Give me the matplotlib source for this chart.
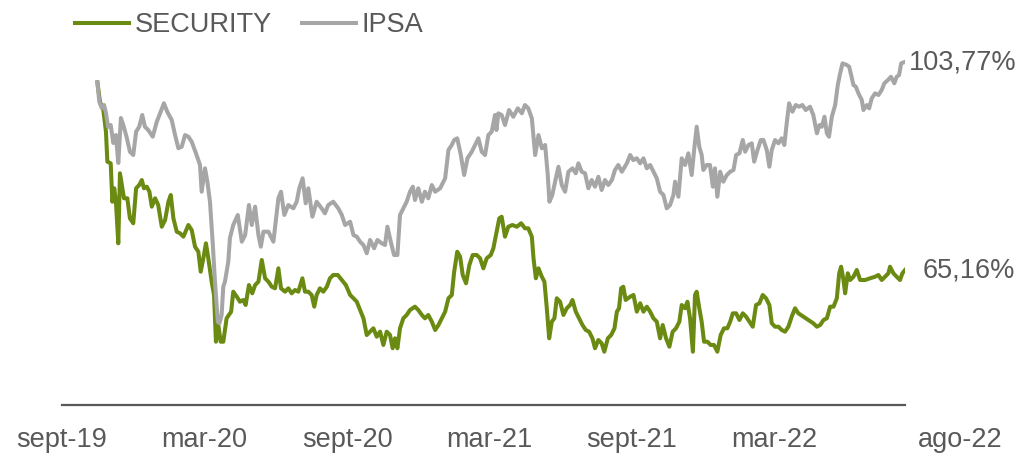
import matplotlib
matplotlib.use("Agg")
import matplotlib.pyplot as plt
import matplotlib.transforms as mtransforms

plt.rcParams['font.family'] = ['Liberation Sans', 'DejaVu Sans']

# x: months elapsed since 1 Sept 2019; values: index (start = 100)
ipsa_x = [1.49, 1.57, 1.67, 1.77, 1.85, 1.94, 2.05, 2.16, 2.27, 2.37, 2.48, 2.58, 2.72, 2.86, 3.0, 3.12, 3.25,
          3.38, 3.49, 3.63, 3.82, 3.99, 4.13, 4.29, 4.43, 4.62, 4.76, 4.9, 5.04, 5.18, 5.32, 5.46, 5.64, 5.81,
          5.88, 6.02, 6.12, 6.23, 6.35, 6.44, 6.56, 6.63, 6.72, 6.79, 6.86, 7.0, 7.07, 7.21, 7.4, 7.57, 7.71,
          7.87, 7.99, 8.13, 8.27, 8.37, 8.48, 8.69, 8.9, 9.11, 9.22, 9.36, 9.53, 9.74, 9.88, 9.99, 10.13, 10.26,
          10.37, 10.54, 10.72, 10.93, 11.07, 11.21, 11.42, 11.63, 11.78, 11.92, 12.13, 12.27, 12.41, 12.55,
          12.69, 12.83, 12.97, 13.14, 13.28, 13.46, 13.6, 13.7, 13.84, 13.98, 14.12, 14.23, 14.37, 14.51, 14.65,
          14.77, 14.86, 15.0, 15.15, 15.28, 15.42, 15.57, 15.71, 15.92, 16.13, 16.27, 16.41, 16.51, 16.64,
          16.79, 16.93, 17.07, 17.25, 17.39, 17.53, 17.67, 17.81, 17.95, 18.09, 18.23, 18.29, 18.37, 18.51,
          18.65, 18.82, 19.0, 19.19, 19.36, 19.49, 19.63, 19.78, 19.92, 20.06, 20.2, 20.34, 20.45, 20.52,
          20.64, 20.76, 20.9, 21.04, 21.18, 21.32, 21.49, 21.63, 21.74, 21.88, 22.02, 22.16, 22.3, 22.44,
          22.58, 22.72, 22.86, 23.0, 23.15, 23.28, 23.42, 23.57, 23.78, 23.92, 24.05, 24.2, 24.34, 24.48,
          24.62, 24.76, 24.9, 25.04, 25.18, 25.32, 25.46, 25.6, 25.74, 25.81, 25.95, 26.09, 26.23, 26.37,
          26.51, 26.62, 26.72, 26.83, 26.93, 27.0, 27.14, 27.28, 27.4, 27.49, 27.59, 27.71, 27.84, 27.99,
          28.13, 28.27, 28.38, 28.52, 28.66, 28.76, 28.9, 29.04, 29.14, 29.28, 29.42, 29.53, 29.67, 29.78,
          29.88, 30.02, 30.16, 30.3, 30.41, 30.51, 30.61, 30.75, 30.89, 31.03, 31.17, 31.31, 31.49, 31.63,
          31.78, 31.89, 31.99, 32.1, 32.2, 32.29, 32.41, 32.55, 32.66, 32.76, 32.86, 33.04, 33.14, 33.22,
          33.32, 33.42, 33.53, 33.67, 33.74, 33.88, 33.98, 34.09, 34.23, 34.37, 34.51, 34.62, 34.77, 34.9,
          35.04, 35.14, 35.24, 35.33, 35.47]
ipsa_v = [100.0, 96.4, 95.24, 95.79, 94.3, 91.71, 92.08, 88.74, 90.22, 85.03, 93.38, 92.08, 89.85, 87.12, 86.51,
          90.84, 91.76, 93.94, 91.76, 91.15, 89.91, 92.69, 94.25, 96.11, 94.55, 93.01, 90.22, 87.76, 88.05,
          90.22, 89.91, 88.98, 86.83, 84.66, 79.7, 84.04, 81.56, 77.84, 69.81, 63.0, 55.57, 55.3, 56.82, 62.07,
          63.0, 66.71, 71.11, 73.52, 75.38, 70.42, 71.66, 77.23, 73.52, 76.92, 71.66, 69.49, 72.28, 72.28,
          70.42, 78.48, 79.7, 75.38, 77.23, 76.62, 77.84, 80.33, 82.19, 77.55, 80.33, 75.06, 77.84, 76.62,
          75.69, 77.23, 77.84, 76.62, 75.38, 73.52, 74.13, 71.66, 71.35, 70.42, 69.81, 68.27, 70.74, 69.2,
          70.74, 70.12, 69.81, 73.2, 70.42, 67.95, 67.95, 75.38, 76.62, 77.84, 79.7, 80.63, 78.16, 80.33,
          77.84, 79.7, 78.48, 80.94, 79.7, 80.33, 82.19, 87.44, 88.37, 89.3, 89.61, 86.51, 82.8, 85.9, 87.12,
          88.37, 89.61, 87.12, 86.51, 90.22, 90.84, 93.94, 91.15, 94.25, 93.94, 92.08, 94.86, 93.62, 95.18,
          94.25, 95.79, 95.18, 93.32, 86.51, 90.22, 87.76, 88.37, 82.8, 77.84, 79.09, 81.56, 84.34, 80.94,
          79.7, 83.41, 84.04, 83.12, 84.97, 83.41, 83.12, 80.33, 81.87, 80.63, 82.48, 80.02, 81.87, 80.94,
          81.87, 83.73, 84.66, 83.41, 84.97, 86.51, 85.58, 85.9, 84.97, 85.9, 84.04, 84.66, 83.41, 82.19,
          79.7, 79.09, 76.62, 77.23, 79.09, 81.56, 78.77, 85.9, 84.66, 86.83, 82.8, 87.76, 91.76, 88.05,
          86.51, 83.73, 84.66, 84.66, 80.63, 84.04, 78.77, 83.41, 81.56, 82.8, 83.41, 83.73, 86.51, 86.83,
          89.3, 87.12, 88.37, 88.68, 85.27, 87.44, 89.3, 89.3, 87.44, 84.34, 87.44, 89.3, 88.68, 89.61, 88.37,
          92.4, 96.11, 94.55, 95.79, 95.48, 95.79, 94.86, 95.48, 93.94, 90.54, 92.08, 91.76, 93.62, 90.54,
          89.91, 93.62, 95.79, 99.5, 101.68, 103.53, 103.22, 102.9, 101.36, 99.5, 99.19, 97.96, 96.72, 94.86,
          95.79, 95.18, 97.04, 97.96, 97.65, 98.58, 99.82, 100.43, 101.04, 99.82, 101.04, 101.36, 103.53,
          103.77]

sec_x = [1.49, 1.6, 1.74, 1.85, 1.91, 2.05, 2.12, 2.2, 2.27, 2.37, 2.44, 2.54, 2.61, 2.75, 2.86, 3.0, 3.12, 3.25,
         3.36, 3.45, 3.57, 3.68, 3.78, 3.92, 4.05, 4.2, 4.34, 4.48, 4.58, 4.69, 4.83, 4.97, 5.11, 5.32, 5.46,
         5.6, 5.74, 5.84, 5.95, 6.06, 6.16, 6.3, 6.4, 6.48, 6.58, 6.68, 6.79, 6.93, 7.12, 7.21, 7.36, 7.49,
         7.63, 7.73, 7.87, 8.01, 8.13, 8.27, 8.41, 8.55, 8.69, 8.83, 8.97, 9.11, 9.22, 9.39, 9.53, 9.67, 9.81,
         9.95, 10.12, 10.23, 10.37, 10.51, 10.62, 10.72, 10.86, 11.0, 11.15, 11.28, 11.42, 11.61, 11.78,
         11.95, 12.13, 12.27, 12.41, 12.55, 12.69, 12.83, 12.97, 13.11, 13.25, 13.39, 13.53, 13.67, 13.81,
         13.92, 14.02, 14.12, 14.23, 14.37, 14.51, 14.65, 14.86, 15.0, 15.15, 15.28, 15.42, 15.57, 15.71,
         15.85, 15.99, 16.13, 16.27, 16.41, 16.51, 16.64, 16.76, 16.87, 17.01, 17.15, 17.29, 17.46, 17.6,
         17.74, 17.88, 18.05, 18.16, 18.3, 18.41, 18.51, 18.65, 18.79, 18.96, 19.15, 19.33, 19.49, 19.63,
         19.78, 19.85, 19.95, 20.06, 20.2, 20.31, 20.41, 20.51, 20.62, 20.73, 20.83, 20.97, 21.11, 21.25,
         21.39, 21.49, 21.63, 21.77, 21.91, 22.05, 22.19, 22.33, 22.44, 22.58, 22.72, 22.83, 22.98, 23.12,
         23.26, 23.36, 23.45, 23.54, 23.63, 23.73, 23.92, 24.06, 24.2, 24.34, 24.48, 24.62, 24.76, 24.9,
         25.04, 25.18, 25.29, 25.43, 25.57, 25.71, 25.85, 25.99, 26.09, 26.23, 26.33, 26.44, 26.56, 26.65,
         26.72, 26.83, 26.93, 27.03, 27.17, 27.31, 27.45, 27.59, 27.73, 27.87, 28.01, 28.13, 28.24, 28.38,
         28.52, 28.66, 28.8, 28.94, 29.08, 29.22, 29.36, 29.5, 29.64, 29.78, 29.88, 30.02, 30.16, 30.3,
         30.44, 30.58, 30.72, 30.86, 31.0, 31.21, 31.42, 31.63, 31.78, 31.92, 32.06, 32.2, 32.34, 32.48,
         32.62, 32.72, 32.8, 32.9, 32.97, 33.08, 33.18, 33.32, 33.46, 33.6, 33.81, 34.02, 34.23, 34.37,
         34.51, 34.65, 34.79, 34.86, 35.0, 35.14, 35.28, 35.38, 35.49]
sec_v = [100.0, 96.4, 94.86, 90.84, 85.27, 84.97, 77.84, 80.33, 77.84, 70.12, 83.12, 80.33, 78.48, 78.48, 74.76,
         73.84, 80.33, 80.94, 81.87, 80.33, 80.63, 79.7, 76.92, 78.48, 77.23, 73.2, 74.45, 77.84, 79.09,
         74.76, 72.28, 71.98, 71.35, 73.52, 72.59, 69.49, 68.56, 64.85, 67.34, 70.12, 67.34, 63.0, 60.53,
         51.86, 54.96, 51.86, 51.86, 56.2, 57.43, 61.14, 60.21, 59.28, 59.6, 58.67, 62.38, 60.84, 62.38,
         63.0, 67.02, 63.63, 63.0, 62.07, 61.77, 65.48, 61.77, 61.14, 61.77, 60.84, 61.46, 61.14, 63.63,
         61.14, 61.14, 60.53, 58.36, 60.53, 61.77, 61.14, 62.07, 63.63, 64.24, 64.24, 63.31, 62.38, 60.53,
         59.92, 59.28, 57.74, 56.2, 53.1, 53.72, 54.35, 52.79, 53.72, 51.25, 53.72, 53.1, 50.64, 52.49,
         50.64, 54.35, 56.2, 56.82, 57.74, 58.36, 57.74, 56.82, 56.2, 56.82, 55.57, 54.03, 54.96, 56.2,
         57.43, 59.92, 60.53, 64.85, 68.56, 67.64, 64.24, 62.7, 66.1, 67.95, 67.95, 67.34, 65.48, 67.34,
         67.95, 69.2, 72.28, 74.76, 75.06, 71.35, 73.2, 73.52, 73.2, 73.84, 72.91, 72.91, 71.35, 67.34,
         63.63, 65.48, 63.92, 63.0, 58.06, 52.49, 55.57, 56.2, 59.92, 59.28, 56.82, 58.06, 58.67, 59.6,
         57.43, 56.2, 54.96, 54.03, 53.72, 52.49, 50.64, 52.18, 51.56, 50.0, 52.49, 53.1, 54.35, 57.43,
         58.06, 61.77, 62.07, 59.6, 60.21, 60.53, 57.43, 58.99, 57.43, 58.36, 57.43, 56.2, 55.57, 52.49,
         54.96, 52.49, 50.93, 53.72, 54.35, 55.57, 58.67, 58.06, 59.28, 56.2, 50.0, 60.53, 61.14, 58.06,
         55.57, 51.86, 51.86, 51.25, 51.25, 50.0, 53.1, 54.35, 54.35, 55.57, 57.13, 57.13, 55.89, 57.13,
         56.5, 55.57, 54.64, 58.67, 58.99, 60.53, 59.92, 58.67, 55.28, 54.64, 54.64, 54.03, 53.72, 54.64,
         56.5, 58.06, 57.13, 56.5, 55.89, 55.28, 54.64, 54.96, 55.89, 56.2, 58.36, 58.36, 59.92, 64.56,
         65.78, 63.31, 60.84, 64.56, 63.31, 63.92, 65.17, 63.31, 63.31, 63.63, 63.92, 64.24, 63.31, 63.92,
         64.56, 65.78, 64.56, 63.92, 63.31, 64.56, 65.16]

tick_pos = [0, 6, 12, 18, 24, 30]
tick_labels = ["sept-19", "mar-20", "sept-20", "mar-21", "sept-21", "mar-22"]
last_label = "ago-22"
last_label_pos = 37.8
series_names = ["SECURITY", "IPSA"]
end_labels = ["65,16%", "103,77%"]

SEC_COLOR = "#6B8A12"
IPSA_COLOR = "#A6A6A6"
TEXT_COLOR = "#595959"
FS = 19.5
LW = 2.9

fig = plt.figure(figsize=(10.23, 4.58), dpi=100)
ax = fig.add_axes([62 / 1023, 53 / 458, (905 - 62) / 1023, (405 - 40) / 458])

ax.plot(sec_x, sec_v, color=SEC_COLOR, lw=LW, label=series_names[0], solid_joinstyle='round')
ax.plot(ipsa_x, ipsa_v, color=IPSA_COLOR, lw=LW, label=series_names[1], solid_joinstyle='round')

ax.set_xlim(0, sec_x[-1])
ax.set_ylim(40.11, 107.86)

for s in ["top", "right", "left"]:
    ax.spines[s].set_visible(False)
ax.spines["bottom"].set_color(TEXT_COLOR)
ax.spines["bottom"].set_linewidth(1.6)
ax.set_yticks([])
ax.set_xticks(tick_pos)
ax.set_xticklabels(tick_labels, fontsize=FS, color=TEXT_COLOR)
ax.tick_params(axis="x", length=0, pad=16)

# final category label sits beyond the plotted range, aligned with the tick labels
ax.text(last_label_pos, 0, last_label, fontsize=FS, color=TEXT_COLOR, ha="center", va="top", clip_on=False,
        transform=ax.get_xaxis_transform() + mtransforms.ScaledTranslation(0, -16 / 72, fig.dpi_scale_trans))

ax.annotate(end_labels[1], xy=(ipsa_x[-1], ipsa_v[-1]), xytext=(4, 0), textcoords="offset pixels",
            fontsize=FS, color=TEXT_COLOR, ha="left", va="center", annotation_clip=False)
ax.annotate(end_labels[0], xy=(sec_x[-1], sec_v[-1]), xytext=(18, 0), textcoords="offset pixels",
            fontsize=FS, color=TEXT_COLOR, ha="left", va="center", annotation_clip=False)

leg = ax.legend(loc="center left", bbox_to_anchor=(75 / 1023, 1 - 25 / 458), bbox_transform=fig.transFigure,
                ncol=2, frameon=False, fontsize=FS, handlelength=2.0, handletextpad=0.2,
                columnspacing=1.1, borderpad=0, borderaxespad=0)
for t in leg.get_texts():
    t.set_color(TEXT_COLOR)

fig.savefig("out.png", dpi=100)
